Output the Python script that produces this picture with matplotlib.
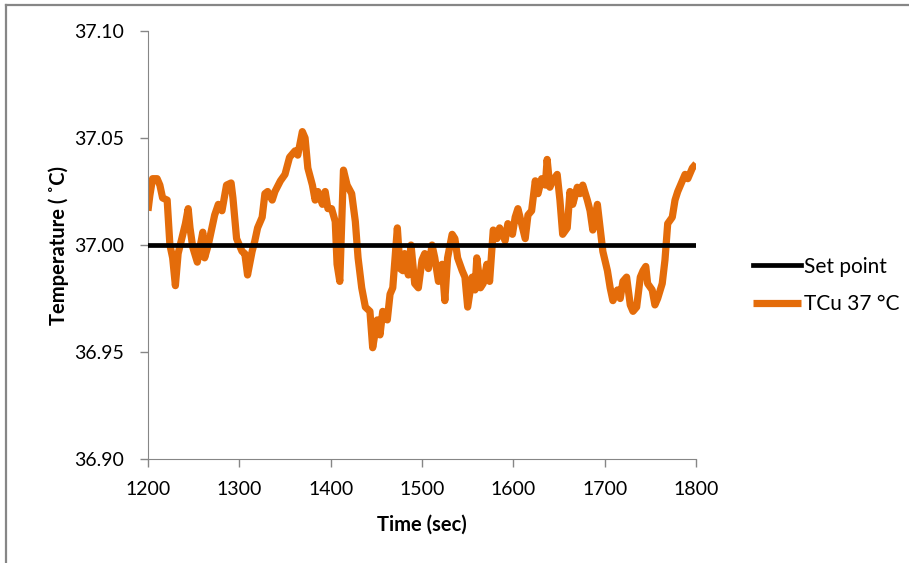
import matplotlib.pyplot as plt
from matplotlib.lines import Line2D

# -----------------------------------------------------------------------------
# data

# set point series
setpoint_time = [1200, 1800]
setpoint_temp = [37.00, 37.00]

# measured TCu series (time in sec, temperature in deg C)
time_sec = [1200, 1202, 1205, 1210, 1213, 1216, 1221, 1224, 1227, 1230,
            1233, 1237, 1241, 1244, 1246, 1249, 1254, 1257, 1260, 1262,
            1266, 1270, 1273, 1277, 1281, 1286, 1291, 1293, 1297, 1303,
            1306, 1309, 1314, 1317, 1320, 1325, 1328, 1331, 1336, 1339,
            1345, 1350, 1355, 1361, 1364, 1369, 1372, 1375, 1380, 1383,
            1386, 1391, 1394, 1397, 1401, 1405, 1407, 1410, 1414, 1418,
            1423, 1427, 1430, 1434, 1438, 1443, 1446, 1451, 1454, 1457,
            1462, 1465, 1468, 1473, 1476, 1479, 1481, 1485, 1488, 1492,
            1496, 1500, 1503, 1507, 1511, 1514, 1518, 1522, 1525, 1528,
            1533, 1536, 1539, 1544, 1547, 1550, 1555, 1558, 1560, 1564,
            1567, 1571, 1574, 1578, 1582, 1585, 1591, 1594, 1599, 1602,
            1605, 1609, 1613, 1616, 1620, 1624, 1627, 1631, 1635, 1637,
            1640, 1643, 1648, 1651, 1654, 1659, 1662, 1665, 1670, 1673,
            1676, 1681, 1684, 1687, 1692, 1695, 1698, 1703, 1706, 1709,
            1714, 1717, 1720, 1724, 1728, 1731, 1735, 1739, 1742, 1745,
            1747, 1752, 1755, 1758, 1763, 1766, 1769, 1774, 1777, 1780,
            1785, 1788, 1791, 1796, 1800]
tcu_temp = [37.016, 37.023, 37.031, 37.031, 37.028, 37.022, 37.021, 37.000, 36.994, 36.981,
            36.996, 37.003, 37.010, 37.017, 37.008, 36.999, 36.992, 36.999, 37.006, 36.994,
            37.000, 37.008, 37.014, 37.019, 37.016, 37.028, 37.029, 37.022, 37.003, 36.997,
            36.996, 36.986, 36.997, 37.002, 37.008, 37.013, 37.024, 37.025, 37.021, 37.025,
            37.030, 37.033, 37.041, 37.044, 37.042, 37.053, 37.050, 37.036, 37.028, 37.021,
            37.025, 37.019, 37.025, 37.017, 37.017, 37.011, 36.991, 36.983, 37.035, 37.028,
            37.024, 37.011, 36.994, 36.980, 36.971, 36.969, 36.952, 36.965, 36.958, 36.969,
            36.965, 36.977, 36.980, 37.008, 36.989, 36.988, 36.996, 36.986, 37.000, 36.982,
            36.980, 36.993, 36.996, 36.989, 37.000, 36.994, 36.983, 36.991, 36.974, 36.994,
            37.005, 37.003, 36.994, 36.988, 36.985, 36.971, 36.985, 36.979, 36.994, 36.980,
            36.982, 36.991, 36.983, 37.007, 37.003, 37.008, 37.002, 37.010, 37.005, 37.013,
            37.017, 37.010, 37.003, 37.014, 37.016, 37.030, 37.024, 37.031, 37.028, 37.040,
            37.027, 37.030, 37.033, 37.021, 37.005, 37.008, 37.025, 37.019, 37.027, 37.024,
            37.028, 37.021, 37.016, 37.007, 37.019, 37.008, 36.997, 36.988, 36.980, 36.974,
            36.979, 36.975, 36.983, 36.985, 36.972, 36.969, 36.971, 36.985, 36.988, 36.990,
            36.982, 36.979, 36.972, 36.975, 36.982, 36.993, 37.010, 37.013, 37.021, 37.025,
            37.030, 37.033, 37.031, 37.036, 37.038]

x_ticks = [1200, 1300, 1400, 1500, 1600, 1700, 1800]
y_ticks = [36.90, 36.95, 37.00, 37.05, 37.10]

# -----------------------------------------------------------------------------
# draw the graph

plt.rcParams['font.family'] = ['Lato', 'DejaVu Sans']

figure = plt.figure(figsize=(9.09, 5.63), dpi=100)
axes = figure.add_axes([0.1628, 0.1847, 0.6029, 0.7602])

grey = '#868686'
orange = '#E46C0A'

# series
axes.plot(time_sec, tcu_temp, color=orange, linewidth=5.2, label='TCu 37 °C',
          solid_joinstyle='round', solid_capstyle='butt', zorder=2)
axes.plot(setpoint_time, setpoint_temp, color='black', linewidth=3.4,
          label='Set point', zorder=3)

# axes ranges and ticks
axes.set_xlim(1200, 1800)
axes.set_ylim(36.90, 37.10)
axes.set_xticks(x_ticks)
axes.set_yticks(y_ticks)
axes.set_yticklabels(['%.2f' % v for v in y_ticks])
axes.tick_params(axis='x', direction='out', length=6, width=1, color=grey,
                 labelsize=14, pad=10)
axes.tick_params(axis='y', direction='out', length=6, width=1, color=grey,
                 labelsize=14, pad=11)

# spines
axes.spines['top'].set_visible(False)
axes.spines['right'].set_visible(False)
axes.spines['left'].set_color(grey)
axes.spines['bottom'].set_color(grey)

# labels
axes.set_xlabel('Time (sec)', fontsize=14.5, fontweight='bold', labelpad=12)
axes.set_ylabel('Temperature ( ˚C)', fontsize=14.5, fontweight='bold', labelpad=4)

# legend outside the plot
handles, labels = axes.get_legend_handles_labels()
figure.legend([handles[1], handles[0]], [labels[1], labels[0]],
              loc='center left', bbox_to_anchor=(0.828, 0.493),
              frameon=False, fontsize=15, handlelength=2.3, handletextpad=0.15,
              labelspacing=0.85, borderpad=0, borderaxespad=0)

# border of the chart area
figure.add_artist(Line2D([0.007, 0.007], [0.0, 0.992], color=grey, linewidth=1.6))
figure.add_artist(Line2D([0.007, 1.0], [0.992, 0.992], color=grey, linewidth=1.6))

# save as image
figure.savefig('out.png', dpi=100)
